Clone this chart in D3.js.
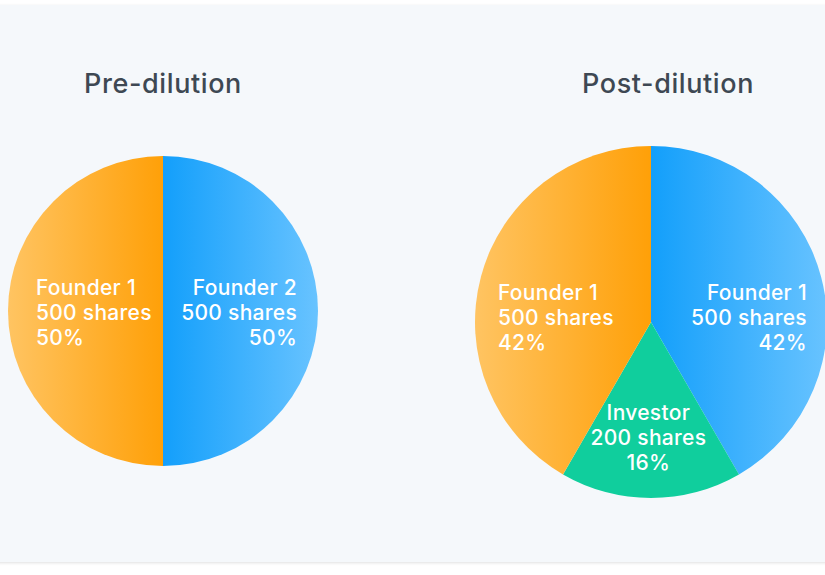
<!DOCTYPE html>
<html>
<head>
<meta charset="utf-8">
<script src="https://cdn.jsdelivr.net/npm/d3@7"></script>
<style>
  body { margin: 0; background: #ffffff; }
  svg { display: block; font-family: Inter, "Open Sans", sans-serif; }
</style>
</head>
<body>
<div id="chart"></div>
<script>
// data per taart
const preNames = ["Founder 2", "Founder 1"]
const preShares = [500, 500]
const prePct = ["50%", "50%"]

const postNames = ["Founder 1", "Investor", "Founder 1"]
const postShares = [500, 200, 500]
const postPct = ["42%", "16%", "42%"]

const sliceKinds = ["blue", "green", "orange"]

const width = 825
const height = 575

var svg = d3.select("#chart")
    .append("svg")
    .attr("width", width)
    .attr("height", height)

// kleurverlopen
var defs = svg.append("defs")
var grads = {
  orange: ["#ffc462", "#ffa008"],
  blue: ["#139ffb", "#68c3ff"],
  green: ["#10ce9d", "#10ce9d"]
}
Object.keys(grads).forEach(function(k) {
  var g = defs.append("linearGradient").attr("id", "grad-" + k)
      .attr("x1", 0).attr("x2", 1).attr("y1", 0).attr("y2", 0)
  g.append("stop").attr("offset", "0%").attr("stop-color", grads[k][0])
  g.append("stop").attr("offset", "100%").attr("stop-color", grads[k][1])
})
var shadow = defs.append("filter").attr("id", "shadow")
    .attr("x", "-5%").attr("y", "-5%").attr("width", "110%").attr("height", "110%")
shadow.append("feDropShadow").attr("dx", 0).attr("dy", 1).attr("stdDeviation", 1.5)
    .attr("flood-color", "#000").attr("flood-opacity", 0.12)

// achtergrond paneel
svg.append("rect")
    .attr("x", -10).attr("y", 5)
    .attr("width", width + 20).attr("height", 557)
    .attr("fill", "#f5f8fb")
    .attr("filter", "url(#shadow)")

/**
 * teken een taartdiagram met labels
 */
function drawPie(cfg) {
  var g = svg.append("g")
      .attr("transform", "translate(" + cfg.cx + "," + cfg.cy + ")")

  var pie = d3.pie().sort(null).value(function(d) { return d.shares })
  var arc = d3.arc().innerRadius(0).outerRadius(cfg.r)

  var data = cfg.names.map(function(n, i) {
    return {name: n, shares: cfg.shares[i], pct: cfg.pct[i], kind: cfg.kinds[i], label: cfg.labels[i]}
  })

  g.selectAll("path")
      .data(pie(data))
      .enter()
      .append("path")
      .attr("d", arc)
      .attr("fill", function(d) { return "url(#grad-" + d.data.kind + ")" })

  // labels
  var texts = g.selectAll("text.lbl")
      .data(data)
      .enter()
      .append("text")
      .attr("class", "lbl")
      .attr("fill", "#ffffff")
      .attr("font-size", "21px")
      .attr("letter-spacing", "0.3px")
      .attr("font-weight", 500)
      .attr("text-anchor", function(d) { return d.label.anchor })
      .attr("transform", function(d) {
        return "translate(" + (d.label.fx * cfg.r) + "," + d.label.dy + ")"
      })

  texts.each(function(d) {
    var t = d3.select(this)
    var lines = [d.name, d.shares + " shares", d.pct]
    lines.forEach(function(line, i) {
      t.append("tspan").attr("x", 0).attr("y", i * 25).text(line)
    })
  })

  // titel
  svg.append("text")
      .attr("x", cfg.titleX)
      .attr("y", 93)
      .attr("text-anchor", "middle")
      .attr("fill", "#3e4853")
      .attr("font-size", "27px")
      .attr("letter-spacing", "0.6px")
      .attr("font-weight", 500)
      .text(cfg.title)
}

drawPie({
  title: "Pre-dilution", titleX: 163,
  cx: 163, cy: 311, r: 155,
  names: preNames, shares: preShares, pct: prePct,
  kinds: ["blue", "orange"],
  labels: [
    {anchor: "end", fx: 0.865, dy: -16},
    {anchor: "start", fx: -0.82, dy: -16}
  ]
})

drawPie({
  title: "Post-dilution", titleX: 668,
  cx: 651, cy: 322, r: 176,
  names: postNames, shares: postShares, pct: postPct,
  kinds: sliceKinds,
  labels: [
    {anchor: "end", fx: 0.886, dy: -22},
    {anchor: "middle", fx: -0.015, dy: 98},
    {anchor: "start", fx: -0.87, dy: -22}
  ]
})
</script>
</body>
</html>
